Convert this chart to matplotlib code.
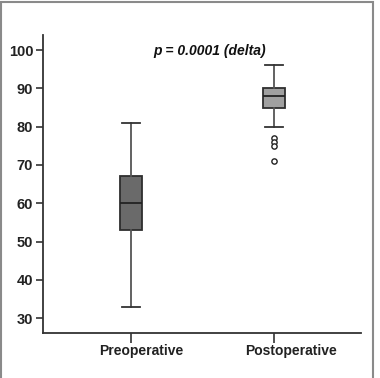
import matplotlib
matplotlib.use("Agg")
import matplotlib.pyplot as plt
import matplotlib.transforms as mtransforms
from matplotlib.patches import Rectangle

# data
groups = ["Preoperative", "Postoperative"]
whislo = [33, 80]
q1 = [53, 85]
med = [60, 88]
q3 = [67, 90]
whishi = [81, 96]
fliers = [[], [77, 76, 75, 71]]
box_colors = ["#6a6a6a", "#a0a0a0"]
yticks = [30, 40, 50, 60, 70, 80, 90, 100]

plt.rcParams['font.family'] = ['Liberation Sans', 'DejaVu Sans']

fig = plt.figure(figsize=(3.8, 3.78), dpi=100)
ax = fig.add_axes([0.113, 0.119, 0.837, 0.788])

stats = []
for i in range(len(groups)):
    stats.append(dict(label=groups[i], whislo=whislo[i], q1=q1[i], med=med[i],
                      q3=q3[i], whishi=whishi[i], fliers=fliers[i]))

bp = ax.bxp(stats, positions=[1, 2], widths=0.155, patch_artist=True,
            boxprops=dict(edgecolor="#2e2e2e", linewidth=1.3),
            medianprops=dict(color="#222222", linewidth=1.3),
            whiskerprops=dict(color="#555555", linewidth=1.3),
            capprops=dict(color="#333333", linewidth=1.3),
            capwidths=0.13,
            flierprops=dict(marker="o", markersize=3.8, markerfacecolor="white",
                            markeredgecolor="#222222", markeredgewidth=1.0))
for patch, c in zip(bp["boxes"], box_colors):
    patch.set_facecolor(c)

ax.set_xlim(0.385, 2.61)
ax.set_ylim(26.1, 103.9)
ax.set_yticks(yticks)
ax.set_yticklabels([str(v) for v in yticks], fontsize=10.5, fontweight="bold", color="#222222")
ax.set_xticks([1, 2])
ax.set_xticklabels(["", ""])

# category labels sit a little right of their ticks
label_shift = [10, 17]
for pos, name, dx in zip([1, 2], groups, label_shift):
    tr = ax.get_xaxis_transform() + mtransforms.ScaledTranslation(dx / 100, 0, fig.dpi_scale_trans)
    ax.text(pos, -0.06, name, transform=tr, ha="center", va="center",
            fontsize=10, fontweight="bold", color="#222222")

for side in ["top", "right"]:
    ax.spines[side].set_visible(False)
for side in ["left", "bottom"]:
    ax.spines[side].set_color("#333333")
    ax.spines[side].set_linewidth(1.3)
ax.tick_params(axis="y", length=5, width=1.2, color="#333333", pad=2)
ax.tick_params(axis="x", length=7, width=1.2, color="#333333", pad=6)

ax.text(0.525, 0.946, "p = 0.0001 (delta)", transform=ax.transAxes, ha="center",
        va="center", fontsize=10, fontweight="bold", fontstyle="italic", color="#111111")

# grey frame round the picture
fig.patches.append(Rectangle((0.003, -0.02), 0.978, 1.015, transform=fig.transFigure,
                             fill=False, edgecolor="#8a8a8a", linewidth=1.5))

fig.savefig("out.png", dpi=100)
